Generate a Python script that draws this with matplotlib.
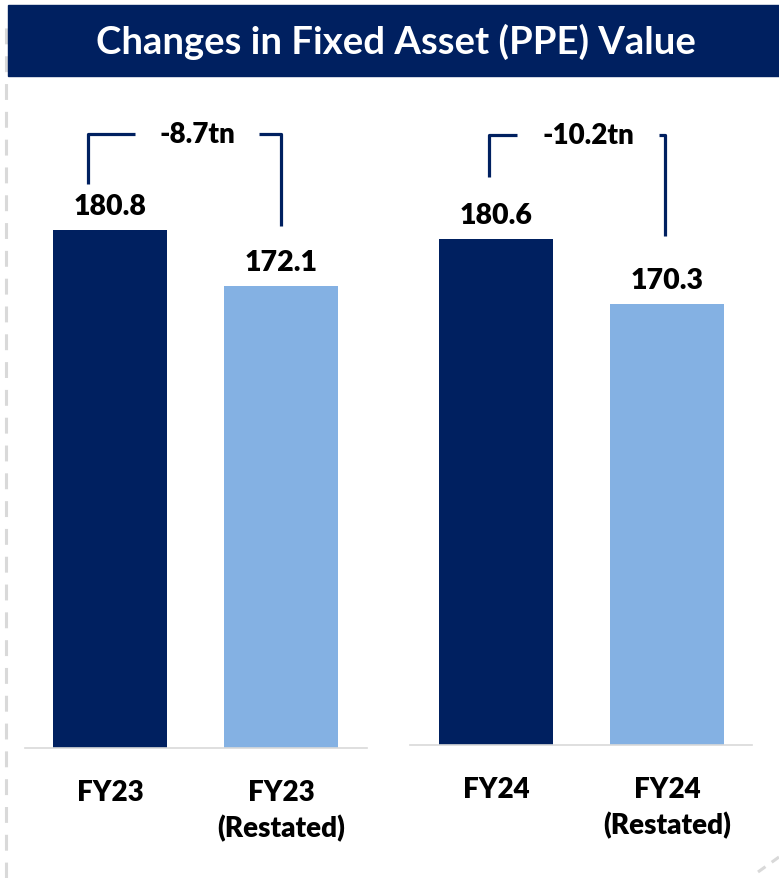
import matplotlib.pyplot as plt
from matplotlib.patches import Rectangle
from matplotlib.lines import Line2D

plt.rcParams['font.family'] = ['Lato', 'DejaVu Sans']

# data
title = 'Changes in Fixed Asset (PPE) Value'
cats_23 = ['FY23', 'FY23\n(Restated)']
vals_23 = [180.8, 172.1]
diff_23 = '-8.7tn'
cats_24 = ['FY24', 'FY24\n(Restated)']
vals_24 = [180.6, 170.3]
diff_24 = '-10.2tn'

navy = '#002060'
light = '#84B1E3'
grid_grey = '#d9d9d9'
WT = 'heavy'

W, H = 779, 879
fig = plt.figure(figsize=(W / 100, H / 100), dpi=100)

# title bar
fig.patches.append(Rectangle((8 / W, 1 - 77 / H), 1 - 8 / W, 71 / H,
                             transform=fig.transFigure, color=navy, zorder=0))
fig.text(396 / W, 1 - 42 / H, title, color='white', fontsize=27.5,
         fontweight='bold', ha='center', va='center')

# dashed frame bits
fig.add_artist(Line2D([6 / W, 6 / W], [0, 1 - 24 / H], color=grid_grey,
                      lw=2.2, dashes=(5.2, 3.9), zorder=-1))
fig.add_artist(Line2D([758 / W, 779 / W], [1 - 873 / H, 1 - 858 / H],
                      color=grid_grey, lw=2.2, dashes=(3, 2.5)))


def panel(rect, cats, vals, diff, ymax, brk):
    ax = fig.add_axes(rect)
    x = [0, 1]
    ax.bar(x, vals, width=0.667, color=[navy, light], bottom=0)
    ax.set_ylim(100, ymax)
    ax.set_xlim(-0.5, 1.5)
    for s in ['top', 'right', 'left']:
        ax.spines[s].set_visible(False)
    ax.spines['bottom'].set_color(grid_grey)
    ax.spines['bottom'].set_linewidth(1.2)
    ax.set_yticks([])
    ax.set_xticks(x)
    ax.set_xticklabels(cats, fontsize=20, fontweight=WT, linespacing=1.4)
    ax.tick_params(axis='x', length=0, pad=22)
    for xi, v in zip(x, vals):
        ax.annotate(f'{v:.1f}', (xi, v), xytext=(0, 11.5), textcoords='offset points',
                    ha='center', va='baseline', fontsize=20.5, fontweight=WT)
    # bracket
    xl, xr, top, bl, br, hl, hr, tx = brk
    kw = dict(color=navy, lw=2.3, clip_on=False, solid_capstyle='butt')
    ax.plot([xl, xl, hl], [bl, top, top], **kw)
    ax.plot([hr, xr, xr], [top, top, br], **kw)
    ax.text(tx, top, diff, ha='center', va='center', fontsize=20,
            fontweight=WT)
    return ax


panel([24.5 / W, 130 / H, 342 / W, 641 / H], cats_23, vals_23, diff_23, 200,
      (-0.13, 1.0, 195.8, 188.0, 181.4, 0.146, 0.871, 0.509))
panel([410.5 / W, 133 / H, 342 / W, 628 / H], cats_24, vals_24, diff_24, 200,
      (-0.04, 0.99, 197.1, 190.4, 181.1, 0.123, 0.953, 0.538))

fig.savefig('out.png', dpi=100)
